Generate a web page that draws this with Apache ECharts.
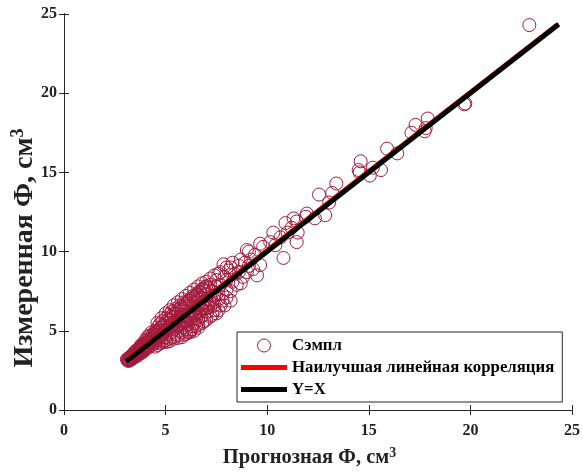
<!DOCTYPE html>
<html><head><meta charset="utf-8">
<script src="https://cdn.jsdelivr.net/npm/echarts@6/dist/echarts.min.js"></script>
<style>html,body{margin:0;padding:0;background:#fff}#c{width:583px;height:476px}</style>
</head><body><div id="c"></div>
<script>
// Sample points [predicted, measured]
const samples = [
[22.9,24.3],[19.7,19.3],[19.75,19.35],
[17.3,18.0],[17.9,18.4],[17.8,17.8],[17.1,17.5],[17.75,17.6],
[15.9,16.5],[16.4,16.2],
[14.6,15.7],[14.5,15.15],[15.2,15.3],[15.05,14.8],[15.6,15.15],[14.55,15.0],
[13.4,14.3],[12.55,13.6],[13.2,13.7],[13.05,13.1],[12.85,12.3],[11.95,12.4],[11.9,12.2],[12.35,12.1],
[11.3,12.1],[11.45,11.9],[11.0,11.2],[11.5,11.2],[11.45,10.6],[10.3,11.2],[10.15,10.6],[9.8,10.3],
[10.8,9.6],[10.65,10.9],[9.1,10.0],[8.7,9.5],[9.65,9.15],[9.5,8.5],[8.2,9.0],[9.0,10.1],[9.65,10.5],
[10.4,10.4],[10.9,11.8],[11.2,11.5],
[7.5,8.2],[7.7,7.9],[7.9,8.4],[8.0,7.6],[8.1,8.8],[8.3,8.1],[8.4,8.6],[8.5,7.9],[8.6,9.1],[8.8,8.4],
[8.9,9.3],[9.0,8.7],[9.2,9.5],[9.3,8.9],[8.3,9.3],[7.6,8.6],[7.8,7.3],[8.2,7.5],[8.7,8.0],[9.4,9.8],
[7.2,7.9],[7.4,7.2],[7.0,7.8],[7.3,6.7],[7.1,6.5],[6.9,7.5],[7.6,7.0],[8.0,8.2],[8.6,8.7],[9.1,9.1],
[3.1,3.2],[3.15,3.1],[3.2,3.3],[3.2,3.15],[3.25,3.2],[3.3,3.4],[3.3,3.25],[3.35,3.3],[3.4,3.5],
[3.4,3.35],[3.45,3.6],[3.5,3.4],[3.5,3.7],[3.55,3.5],[3.6,3.8],[3.6,3.5],[3.65,3.6],
[3.7,3.9],[3.7,3.6],[3.75,4.0],[3.8,3.7],[3.8,4.1],[3.85,3.75],[3.9,4.2],[3.9,3.8],[3.95,4.0],
[4.0,4.4],[4.0,3.85],[4.05,4.1],[4.1,4.6],[4.1,3.9],[4.15,4.3],[4.2,4.0],[4.2,4.7],[4.25,4.4],
[4.3,4.1],[4.3,4.9],[4.35,4.5],[4.4,4.2],[4.4,4.8],[4.45,4.6],[4.5,4.3],[4.5,5.0],[4.5,4.0],
[4.55,4.7],[4.6,5.2],[4.6,4.4],[4.65,4.9],[4.7,4.2],[4.7,5.4],[4.75,4.6],[4.8,5.0],[4.8,4.4],
[4.85,5.6],[4.9,4.8],[4.9,4.3],[4.95,5.3],[5.0,5.8],[5.0,4.6],[5.0,5.0],[5.05,4.3],[5.1,5.5],
[5.1,4.8],[5.15,6.0],[5.2,5.2],[5.2,4.5],[5.25,5.7],[5.3,4.9],[5.3,6.2],[5.35,5.4],[5.4,4.6],
[5.4,5.9],[5.45,5.1],[5.5,6.4],[5.5,5.6],[5.5,4.8],
[5.55,5.3],[5.6,6.1],[5.6,4.7],[5.65,5.8],[5.7,5.0],[5.7,6.6],[5.75,5.5],[5.8,6.3],[5.8,4.9],
[5.85,6.0],[5.9,5.2],[5.9,6.8],[5.95,5.7],[6.0,6.5],[6.0,5.1],[6.05,5.9],[6.1,6.9],[6.1,5.4],
[6.15,6.2],[6.2,5.0],[6.2,7.0],[6.25,5.7],[6.3,6.5],[6.3,5.3],[6.35,7.2],[6.4,6.0],[6.4,5.5],
[6.45,6.8],[6.5,5.8],[6.5,7.3],[6.5,5.3],
[6.55,6.4],[6.6,7.0],[6.6,5.7],[6.65,6.1],[6.7,7.4],[6.7,6.6],[6.75,5.9],[6.8,7.1],[6.8,6.3],
[6.85,7.6],[6.9,6.0],[6.9,6.8],[6.95,7.3],[7.0,6.4],[7.0,7.0],[7.05,6.2],[7.1,7.7],[7.15,6.9],
[7.2,6.5],[7.3,7.5],[7.35,7.0],[7.4,6.6],[7.45,7.8],[7.5,7.3],
[6.2,4.9],[6.4,5.0],[6.6,5.2],[6.8,5.5],[7.0,5.7],[7.3,6.0],[7.6,6.3],[7.9,6.6],[8.2,6.9],[6.0,4.8],[5.8,4.6],
[3.12,3.18],[3.18,3.22],[3.22,3.12],[3.28,3.35],[3.32,3.2],[3.38,3.42],[3.42,3.28],[3.48,3.55],
[3.52,3.45],[3.58,3.65],[3.62,3.42],[3.68,3.75],[3.72,3.55],[3.78,3.9],[3.82,3.62],[3.88,4.05],
[3.92,3.7],[3.98,4.2],[4.02,3.95],[4.08,4.35],[4.12,4.05],[4.18,4.5],[4.22,4.2],[4.28,4.6],
[4.32,4.3],[4.38,4.7],[4.42,4.4],[4.48,4.85],[4.52,4.5],[4.58,4.95],[4.62,4.6],[4.68,5.1],
[4.72,4.7],[4.78,5.2],[4.82,4.8],[4.88,5.35],[4.92,4.9],[4.98,5.45],[5.02,5.1],[5.08,5.65],
[5.12,5.2],[5.18,5.75],[5.22,5.3],[5.28,5.9],[5.32,5.4],[5.38,6.05],[5.42,5.5],[5.48,6.15],
[5.52,5.6],[5.58,6.3],[5.62,5.4],[5.68,6.4],[5.72,5.7],[5.78,6.5],[5.82,5.6],[5.88,6.6],
[5.92,5.9],[5.98,6.7],[6.02,5.6],[6.08,6.8],[6.12,6.0],[6.18,6.9],[6.22,5.9],[6.28,7.0],
[6.32,6.2],[6.38,7.1],[6.42,6.3],[6.48,7.2],[6.52,6.1],[6.58,7.3],[6.62,6.5],[6.68,7.5],
[6.72,6.4],[6.78,7.6],[6.82,6.7],[6.88,7.7],[6.92,6.6],[6.98,7.8],
[4.6,4.1],[4.8,4.25],[5.0,4.4],[5.2,4.35],[5.4,4.5],[5.6,4.55],[5.9,4.75],[6.1,4.9],[6.3,5.1],
[6.6,5.4],[6.9,5.6],[7.2,5.9],[7.5,6.1],[7.8,6.9],[8.0,7.1],[7.7,6.6],[7.4,6.3],
[4.6,5.5],[4.8,5.8],[5.0,6.1],[5.2,6.3],[5.4,6.6],[5.6,6.8],[5.8,7.0],[6.0,7.2],[6.2,7.4],
[6.4,7.6],[6.6,7.8],[6.8,8.0],[7.0,8.1],[7.2,8.3],[7.4,8.5],[7.7,8.7],[8.0,9.0],[7.85,9.2]
];
// Lines: [x, y] end points
const bestFitLine = [[3.1,3.2],[24.25,24.3]];
const identityLine = [[3.15,3.15],[24.25,24.25]];
const xTicks = [0,5,10,15,20,25];
const yTicks = [0,5,10,15,20,25];

const FONT = 'Liberation Serif';
const axisCommon = {
  min: 0, max: 25, interval: 5,
  axisLine: {show: true, lineStyle: {color: '#262626', width: 1}},
  axisTick: {show: true, inside: true, length: 5, lineStyle: {color: '#262626'}},
  splitLine: {show: false}
};
const chart = echarts.init(document.getElementById('c'));
chart.setOption({
  animation: false,
  backgroundColor: '#fff',
  grid: {left: 64, right: 11, top: 14, bottom: 66, containLabel: false, outerBoundsMode: 'none'},
  xAxis: [
    Object.assign({}, axisCommon, {
      type: 'value', position: 'bottom',
      axisLabel: {fontFamily: FONT, fontWeight: 'bold', fontSize: 16, color: '#222', margin: 13,
        formatter: v => xTicks.includes(v) ? String(v) : ''},
      name: 'Прогнозная Ф, см{sup|3}', nameLocation: 'middle', nameGap: 36,
      nameTextStyle: {fontFamily: FONT, fontWeight: 'bold', fontSize: 20.5, color: '#222', padding: [0, 17, 0, 0],
        rich: {sup: {fontFamily: FONT, fontWeight: 'bold', fontSize: 14, color: '#222', verticalAlign: 'bottom', padding: [0, 0, 10, 0]}}}
    }),
    Object.assign({}, axisCommon, {type: 'value', position: 'top', axisLabel: {show: false}})
  ],
  yAxis: [
    Object.assign({}, axisCommon, {
      type: 'value', position: 'left',
      axisLabel: {fontFamily: FONT, fontWeight: 'bold', fontSize: 16, color: '#222', margin: 7,
        formatter: v => yTicks.includes(v) ? String(v) : ''},
      name: 'Измеренная Ф, см{sup|3}', nameLocation: 'middle', nameGap: 24, nameRotate: 90,
      nameMoveOverlap: false,
      nameTextStyle: {fontFamily: FONT, fontWeight: 'bold', fontSize: 28, color: '#222', padding: [0, 72, 0, 0],
        rich: {sup: {fontFamily: FONT, fontWeight: 'bold', fontSize: 18, color: '#222', verticalAlign: 'bottom', padding: [0, 0, 13, 0]}}}
    }),
    Object.assign({}, axisCommon, {type: 'value', position: 'right', axisLabel: {show: false}})
  ],
  legend: {
    orient: 'vertical', left: 237, top: 332,
    borderColor: '#262626', borderWidth: 1, backgroundColor: '#fff',
    padding: [5, 8, 4, 4], itemGap: 5, itemWidth: 46, itemHeight: 13,
    textStyle: {fontFamily: FONT, fontWeight: 'bold', fontSize: 16.8, color: '#000'},
    data: [
      {name: 'Сэмпл', icon: 'circle', itemStyle: {color: 'rgba(255,255,255,0)', borderColor: '#a31a3d', borderWidth: 1}},
      {name: 'Наилучшая линейная корреляция', icon: 'path://M0,0L46,0L46,5L0,5Z'},
      {name: 'Y=X', icon: 'path://M0,0L46,0L46,5L0,5Z'}
    ]
  },
  series: [
    {
      name: 'Сэмпл', type: 'scatter', symbol: 'circle', symbolSize: 13,
      itemStyle: {color: 'rgba(255,255,255,0)', borderColor: '#a31a3d', borderWidth: 1, opacity: 1},
      data: samples, z: 2
    },
    {
      name: 'Наилучшая линейная корреляция', type: 'line', data: bestFitLine,
      symbol: 'none', showSymbol: false, lineStyle: {color: '#ff0000', width: 4.5}, itemStyle: {color: '#ff0000'}, z: 3
    },
    {
      name: 'Y=X', type: 'line', data: identityLine,
      symbol: 'none', showSymbol: false, lineStyle: {color: '#000', width: 5, cap: 'square'}, itemStyle: {color: '#000'}, z: 4
    }
  ]
});
</script></body></html>
